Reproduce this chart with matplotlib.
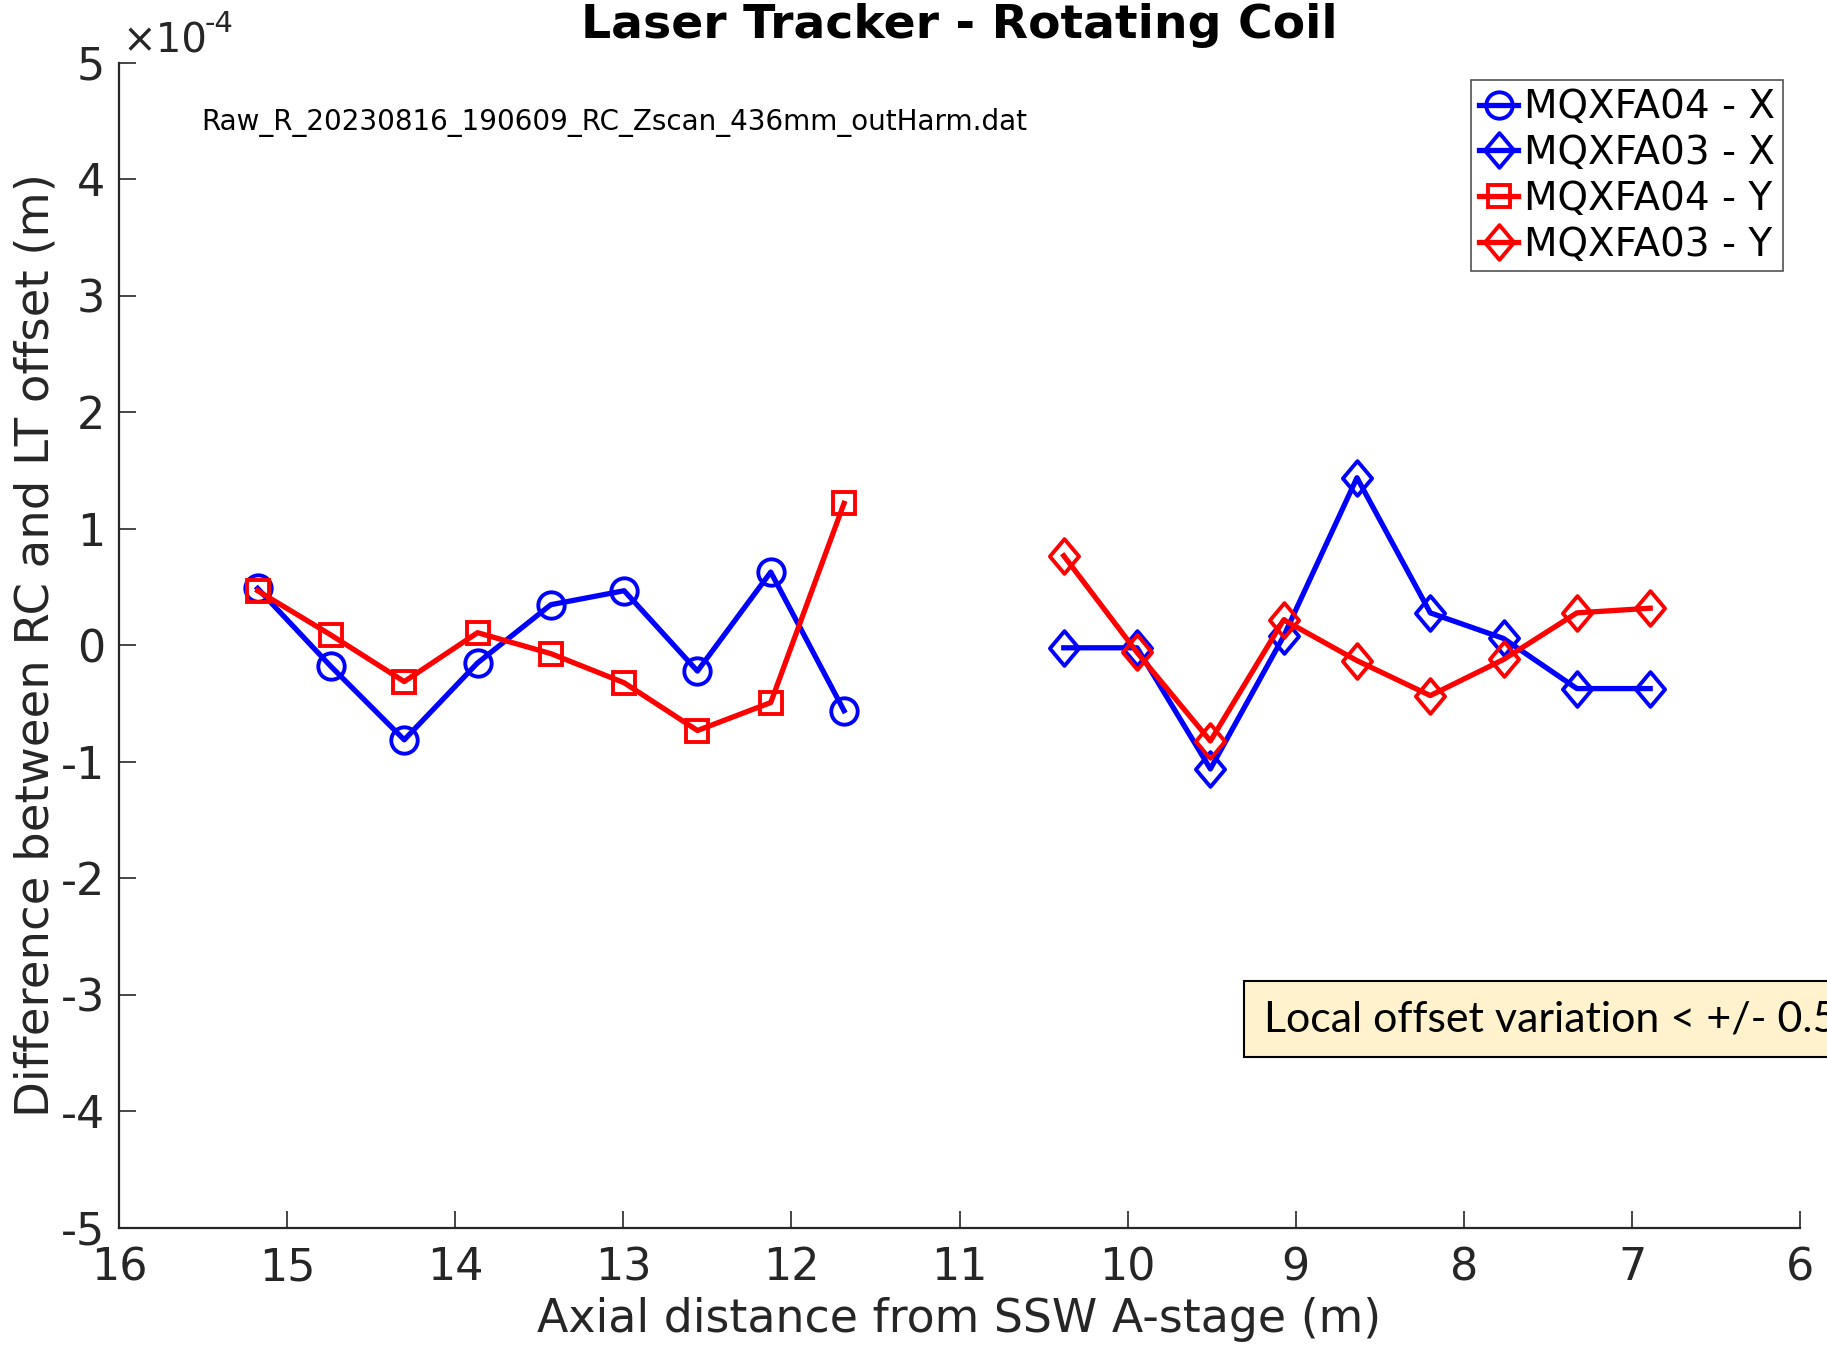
import numpy as np
import matplotlib
matplotlib.use('Agg')
import matplotlib.pyplot as plt
from matplotlib.path import Path
from matplotlib.patches import Rectangle
from matplotlib.ticker import FuncFormatter

# axial positions of the 436 mm z-scan steps (m)
z_a04 = [15.175, 14.739, 14.303, 13.867, 13.431, 12.995, 12.559, 12.123, 11.687]
z_a03 = [10.38, 9.944, 9.508, 9.072, 8.636, 8.200, 7.764, 7.328, 6.892]

# RC - LT offset differences, in units of 1e-4 m
a04_x = [0.49, -0.18, -0.81, -0.15, 0.35, 0.47, -0.22, 0.63, -0.56]
a03_x = [-0.02, -0.02, -1.06, 0.08, 1.44, 0.28, 0.06, -0.37, -0.37]
a04_y = [0.47, 0.09, -0.31, 0.11, -0.07, -0.32, -0.73, -0.49, 1.22]
a03_y = [0.77, -0.06, -0.82, 0.22, -0.13, -0.43, -0.12, 0.28, 0.32]

labels = ['MQXFA04 - X', 'MQXFA03 - X', 'MQXFA04 - Y', 'MQXFA03 - Y']
x_ticks = [16, 15, 14, 13, 12, 11, 10, 9, 8, 7, 6]
y_ticks = [-5, -4, -3, -2, -1, 0, 1, 2, 3, 4, 5]

plt.rcParams['font.family'] = 'DejaVu Sans'
plt.rcParams['axes.unicode_minus'] = False
dark = '#262626'

# MATLAB-style diamond, a bit taller than wide
diamond = Path([(0, 1), (0.84, 0), (0, -1), (-0.84, 0), (0, 1)],
               [Path.MOVETO, Path.LINETO, Path.LINETO, Path.LINETO, Path.CLOSEPOLY])

fig = plt.figure(figsize=(18.27, 13.46), dpi=100)
ax = fig.add_axes([0.0651, 0.0877, 0.9202, 0.8655])

scale = 1e-4
style = dict(lw=3.8, mfc='none', mew=2.8)
ax.plot(z_a04, np.array(a04_x) * scale, '-o', color='#0000ff', ms=19, label=labels[0], **style)
ax.plot(z_a03, np.array(a03_x) * scale, '-', marker=diamond, color='#0000ff', ms=25, label=labels[1], **style)
ax.plot(z_a04, np.array(a04_y) * scale, '-s', color='#ff0000', ms=16, label=labels[2], **style)
ax.plot(z_a03, np.array(a03_y) * scale, '-', marker=diamond, color='#ff0000', ms=25, label=labels[3], **style)

ax.set_xlim(16, 6)
ax.set_ylim(-5e-4, 5e-4)
ax.set_xticks(x_ticks)
ax.set_yticks(np.array(y_ticks) * scale)
ax.yaxis.set_major_formatter(FuncFormatter(lambda v, _: f'{round(v / scale):d}'))

# exponent label above the y axis
ax.text(0.002, 1.009, '×10', transform=ax.transAxes, ha='left', va='baseline',
        fontsize=29, color=dark)
ax.text(0.051, 1.027, '-4', transform=ax.transAxes, ha='left', va='baseline',
        fontsize=21, color=dark)

for s in ['top', 'right']:
    ax.spines[s].set_visible(False)
for s in ['left', 'bottom']:
    ax.spines[s].set_linewidth(1.6)
    ax.spines[s].set_color(dark)
ax.tick_params(direction='in', length=12, width=1.2, colors=dark,
               labelsize=32, pad=10)
ax.tick_params(axis='x', pad=13)

ax.set_xlabel('Axial distance from SSW A-stage (m)', fontsize=33, color=dark, labelpad=6)
ax.set_ylabel('Difference between RC and LT offset (m)', fontsize=33.5, color=dark)
ax.yaxis.set_label_coords(-0.036, 0.5)

fig.text(823.5 / 1568, 1 - 22 / 1155, 'Laser Tracker - Rotating Coil', ha='center', va='center',
         fontsize=34, fontweight='bold')
ax.text(0.0492, 0.949, 'Raw_R_20230816_190609_RC_Zscan_436mm_outHarm.dat',
        transform=ax.transAxes, ha='left', va='center', fontsize=20)

leg = ax.legend(loc='upper right', fontsize=28, frameon=True, fancybox=False,
                edgecolor=dark, handlelength=1.0, handletextpad=0.15,
                borderpad=0.2, labelspacing=0.2, borderaxespad=0.45)
leg.get_frame().set_linewidth(1.2)

# note box running off the right edge
fig.add_artist(Rectangle((1244 / 1827, 1 - 1057 / 1346), 0.4, 76 / 1346,
                         transform=fig.transFigure, facecolor='#fff2cc',
                         edgecolor='black', lw=1.5))
fig.text(1264 / 1827, 1 - 1020 / 1346, 'Local offset variation < +/- 0.5',
         ha='left', va='center', fontsize=31, family='Lato')

fig.savefig('out.png', dpi=100)
